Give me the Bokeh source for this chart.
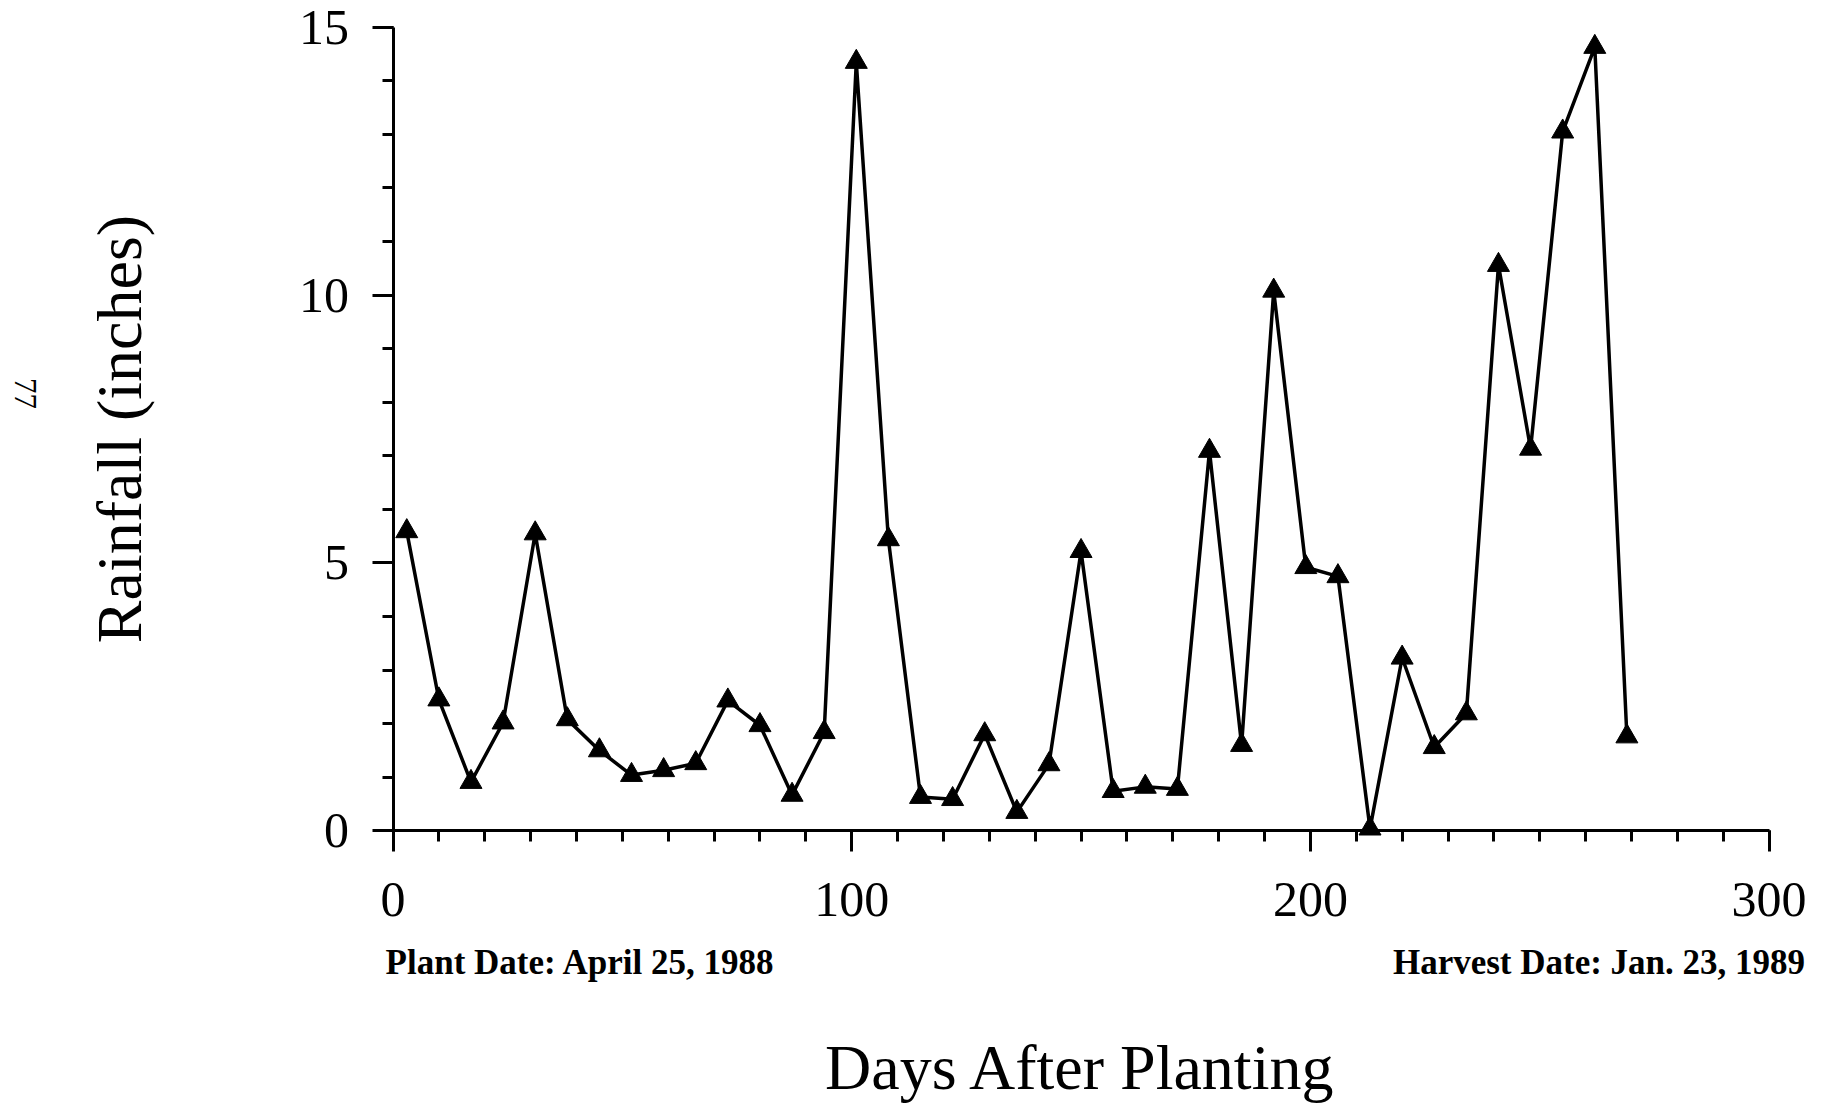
import math
from bokeh.plotting import figure
from bokeh.models import Range1d, FixedTicker, Label
from bokeh.embed import file_html
from bokeh.resources import INLINE

# ---- data ----
days = [3, 10, 17, 24, 31, 38, 45, 52, 59, 66, 73, 80, 87, 94, 101, 108, 115,
        122, 129, 136, 143, 150, 157, 164, 171, 178, 185, 192, 199, 206, 213,
        220, 227, 234, 241, 248, 255, 262, 269]
rainfall = [5.59, 2.45, 0.91, 2.02, 5.55, 2.08, 1.50, 1.04, 1.13, 1.26, 2.43,
            1.97, 0.67, 1.84, 14.35, 5.44, 0.63, 0.59, 1.80, 0.35, 1.24, 5.22,
            0.74, 0.82, 0.78, 7.09, 1.60, 10.08, 4.92, 4.75, 0.04, 3.23, 1.56,
            2.19, 10.56, 7.13, 13.05, 14.63, 1.76]
x_major = [0, 100, 200, 300]
x_minor = list(range(0, 301, 10))
y_major = [0, 5, 10, 15]
y_minor = list(range(0, 16, 1))
y_title = "Rainfall (inches)"
x_title = "Days After Planting"
plant_note = "Plant Date: April 25, 1988"
harvest_note = "Harvest Date: Jan. 23, 1989"
page_no = "77"

SERIF = "Liberation Serif"

# ---- layout: the frame fills the whole canvas; axes sit at fixed locations ----
W, H = 1810, 1106
AX_LEFT, AX_RIGHT = 392.5, 1768.6   # pixel x of day 0 and day 300
AX_TOP, AX_BOTTOM = 26.7, 830.3     # pixel y of 15 in and 0 in
px_per_x = (AX_RIGHT - AX_LEFT) / (x_major[-1] - x_major[0])
px_per_y = (AX_BOTTOM - AX_TOP) / (y_major[-1] - y_major[0])
x_lo = x_major[0] - AX_LEFT / px_per_x
x_hi = x_lo + W / px_per_x
y_hi = y_major[-1] + AX_TOP / px_per_y
y_lo = y_major[0] - (H - AX_BOTTOM) / px_per_y


def sx(px):
    return x_lo + px / px_per_x


def sy(py):
    return y_hi - py / px_per_y


p = figure(width=W, height=H, output_backend="svg", toolbar_location=None,
           title=None, x_range=Range1d(x_lo, x_hi), y_range=Range1d(y_lo, y_hi),
           min_border_left=0, min_border_right=0, min_border_top=0,
           min_border_bottom=0)
p.outline_line_color = None
p.grid.visible = False
p.background_fill_color = "white"
p.border_fill_color = "white"

p.line(days, rainfall, line_width=3.5, line_color="black")
p.scatter(days, rainfall, marker="triangle", size=22, fill_color="black",
          line_color="black")

p.xaxis.ticker = FixedTicker(ticks=x_major, minor_ticks=x_minor)
p.yaxis.ticker = FixedTicker(ticks=y_major, minor_ticks=y_minor)
p.xaxis.fixed_location = 0
p.yaxis.fixed_location = 0
p.xaxis.bounds = (x_major[0], x_major[-1])
p.yaxis.bounds = (y_major[0], y_major[-1])

for ax in (p.xaxis, p.yaxis):
    ax.axis_line_width = 3
    ax.axis_line_color = "black"
    ax.major_tick_line_width = 3
    ax.minor_tick_line_width = 3
    ax.major_tick_line_color = "black"
    ax.minor_tick_line_color = "black"
    ax.major_tick_in = 0
    ax.major_tick_out = 21
    ax.minor_tick_in = 0
    ax.minor_tick_out = 11
    ax.major_label_text_font = SERIF
    ax.major_label_text_font_size = "50px"
    ax.major_label_text_color = "black"

p.xaxis.major_label_standoff = 31
p.yaxis.major_label_standoff = 23


def note(text, x, y, size, align="center", baseline="middle", angle=0.0,
         style="normal"):
    p.add_layout(Label(x=x, y=y, text=text, text_align=align,
                       text_baseline=baseline, angle=angle,
                       text_font=SERIF, text_font_style=style,
                       text_font_size=size, text_color="black"))


note(y_title, sx(119), sy(428.5), "64px", angle=math.pi / 2)
note(x_title, sx(1080.5), sy(1067), "64px")
note(plant_note, sx(580), sy(962), "35px", style="bold")
note(harvest_note, sx(1598.5), sy(962), "35px", style="bold")
note(page_no, sx(24.5), sy(393), "31px", angle=-math.pi / 2)

open("out.html", "w").write(file_html(p, INLINE))
